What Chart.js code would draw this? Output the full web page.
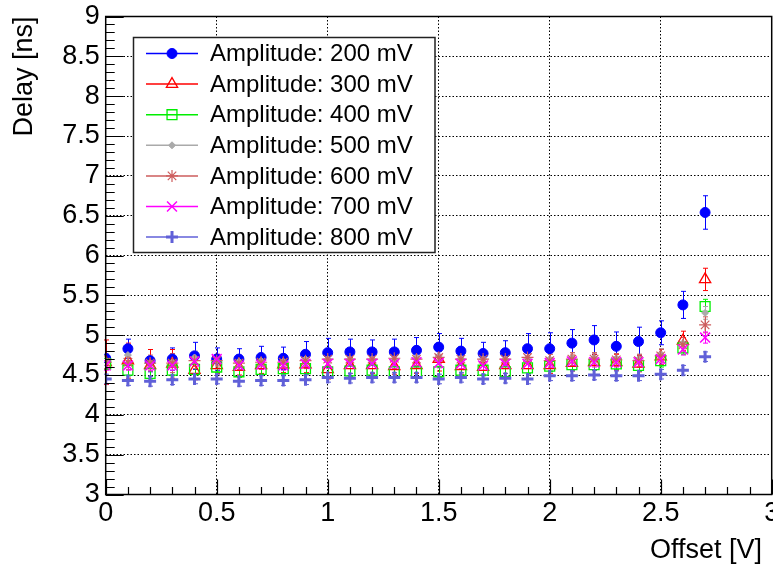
<!DOCTYPE html>
<html>
<head>
<meta charset="utf-8">
<script src="https://cdn.jsdelivr.net/npm/chart.js@4/dist/chart.umd.min.js"></script>
<style>
  html, body { margin: 0; padding: 0; background: #fff; }
  canvas { display: block; }
</style>
</head>
<body>
<canvas id="delayChart" width="773" height="567"></canvas>
<script>
// Offset values [V]
var offsets = [0, 0.1, 0.2, 0.3, 0.4, 0.5, 0.6, 0.7, 0.8, 0.9, 1.0, 1.1, 1.2, 1.3,
               1.4, 1.5, 1.6, 1.7, 1.8, 1.9, 2.0, 2.1, 2.2, 2.3, 2.4, 2.5, 2.6, 2.7];

// Delay [ns] per amplitude
var delay200 = [4.71, 4.83, 4.68, 4.70, 4.74, 4.70, 4.70, 4.72, 4.71, 4.76, 4.78, 4.79, 4.79, 4.79,
                4.81, 4.85, 4.80, 4.77, 4.78, 4.83, 4.83, 4.90, 4.94, 4.86, 4.92, 5.03, 5.38, 6.54];
var delay300 = [4.66, 4.68, 4.62, 4.64, 4.56, 4.62, 4.60, 4.62, 4.63, 4.63, 4.57, 4.62, 4.62, 4.61,
                4.62, 4.70, 4.61, 4.60, 4.62, 4.62, 4.62, 4.65, 4.66, 4.66, 4.64, 4.73, 4.93, 5.70];
var delay400 = [4.64, 4.56, 4.52, 4.56, 4.57, 4.60, 4.54, 4.57, 4.58, 4.58, 4.54, 4.55, 4.56, 4.54,
                4.54, 4.54, 4.56, 4.56, 4.54, 4.59, 4.61, 4.63, 4.63, 4.64, 4.62, 4.68, 4.84, 5.36];
var delay500 = [4.68, 4.75, 4.65, 4.66, 4.72, 4.68, 4.67, 4.68, 4.67, 4.70, 4.70, 4.70, 4.70, 4.70,
                4.72, 4.74, 4.71, 4.70, 4.70, 4.71, 4.70, 4.72, 4.72, 4.71, 4.70, 4.76, 4.90, 5.28];
var delay600 = [4.66, 4.66, 4.65, 4.65, 4.68, 4.68, 4.65, 4.66, 4.66, 4.68, 4.70, 4.70, 4.70, 4.71,
                4.70, 4.72, 4.70, 4.70, 4.70, 4.72, 4.68, 4.70, 4.70, 4.69, 4.68, 4.74, 4.88, 5.13];
var delay700 = [4.62, 4.62, 4.62, 4.62, 4.67, 4.70, 4.62, 4.63, 4.62, 4.64, 4.64, 4.64, 4.64, 4.64,
                4.66, 4.65, 4.64, 4.62, 4.64, 4.64, 4.65, 4.67, 4.66, 4.66, 4.66, 4.70, 4.82, 4.97];
var delay800 = [4.45, 4.43, 4.42, 4.44, 4.45, 4.45, 4.42, 4.43, 4.43, 4.44, 4.47, 4.46, 4.47, 4.47,
                4.47, 4.45, 4.47, 4.45, 4.46, 4.45, 4.49, 4.49, 4.50, 4.49, 4.49, 4.51, 4.56, 4.73];

// Errors [ns]
var err200 = [0.05, 0.12, 0.14, 0.14, 0.17, 0.14, 0.13, 0.14, 0.14, 0.16, 0.18, 0.16, 0.15, 0.16,
              0.16, 0.17, 0.16, 0.14, 0.15, 0.19, 0.20, 0.17, 0.18, 0.18, 0.18, 0.15, 0.17, 0.21];
var err300 = [0.28, 0.22, 0.20, 0.18, 0.12, 0.10, 0.10, 0.10, 0.10, 0.10, 0.12, 0.10, 0.10, 0.10,
              0.10, 0.15, 0.10, 0.10, 0.10, 0.10, 0.10, 0.10, 0.10, 0.10, 0.10, 0.10, 0.12, 0.14];
var err400 = [0.07, 0.07, 0.07, 0.07, 0.07, 0.07, 0.07, 0.07, 0.07, 0.07, 0.07, 0.07, 0.07, 0.07,
              0.07, 0.07, 0.07, 0.07, 0.07, 0.07, 0.07, 0.07, 0.07, 0.07, 0.07, 0.08, 0.08, 0.09];
var err500 = [0.06, 0.08, 0.06, 0.06, 0.08, 0.06, 0.06, 0.06, 0.06, 0.06, 0.06, 0.06, 0.06, 0.06,
              0.06, 0.06, 0.06, 0.06, 0.06, 0.06, 0.06, 0.06, 0.06, 0.06, 0.06, 0.07, 0.07, 0.08];
var err600 = [0.08, 0.09, 0.10, 0.12, 0.10, 0.08, 0.08, 0.08, 0.08, 0.08, 0.08, 0.08, 0.08, 0.08,
              0.08, 0.08, 0.08, 0.08, 0.08, 0.09, 0.08, 0.08, 0.08, 0.08, 0.08, 0.08, 0.09, 0.10];
var err700 = [0.06, 0.06, 0.06, 0.06, 0.06, 0.06, 0.06, 0.06, 0.06, 0.06, 0.06, 0.06, 0.06, 0.06,
              0.06, 0.06, 0.06, 0.06, 0.06, 0.06, 0.06, 0.06, 0.06, 0.06, 0.06, 0.06, 0.07, 0.07];
var err800 = [0.06, 0.06, 0.06, 0.06, 0.06, 0.06, 0.06, 0.06, 0.06, 0.06, 0.06, 0.06, 0.06, 0.06,
              0.06, 0.06, 0.06, 0.06, 0.06, 0.06, 0.06, 0.06, 0.06, 0.06, 0.06, 0.06, 0.06, 0.06];

var seriesLabels = ['Amplitude: 200 mV', 'Amplitude: 300 mV', 'Amplitude: 400 mV', 'Amplitude: 500 mV',
                    'Amplitude: 600 mV', 'Amplitude: 700 mV', 'Amplitude: 800 mV'];
var xTitle = 'Offset [V]';
var yTitle = 'Delay [ns]';

var FONT = "'Liberation Sans', Arial, Helvetica, sans-serif";

function toPoints(values) {
    return values.map(function (v, i) { return { x: offsets[i], y: v }; });
}

// "9", "8.5" ... rather than "9.0"
function tickText(value) {
    return String(+value.toFixed(1));
}

// marker style per series (ROOT-like)
var styles = [
    { color: '#0000ff', pointStyle: 'circle',   radius: 5,   fill: '#0000ff', bw: 1 },
    { color: '#ff0000', pointStyle: 'triangle', radius: 6.5, fill: 'rgba(0,0,0,0)', bw: 1.3 },
    { color: '#00ee00', pointStyle: 'rect',     radius: 7,   fill: 'rgba(0,0,0,0)', bw: 1.3 },
    { color: '#aaaaaa', pointStyle: 'rectRot',  radius: 3.5, fill: '#aaaaaa', bw: 1 },
    { color: '#cd5c5c', pointStyle: 'star',     radius: 6,   fill: 'rgba(0,0,0,0)', bw: 1.2 },
    { color: '#ff00ff', pointStyle: 'crossRot', radius: 7,   fill: 'rgba(0,0,0,0)', bw: 1.5 },
    { color: '#6060d8', pointStyle: 'cross',    radius: 6,   fill: 'rgba(0,0,0,0)', bw: 3 }
];
var allValues = [delay200, delay300, delay400, delay500, delay600, delay700, delay800];
var allErrors = [err200, err300, err400, err500, err600, err700, err800];

var datasets = allValues.map(function (vals, i) {
    var s = styles[i];
    return {
        label: seriesLabels[i],
        data: toPoints(vals),
        errors: allErrors[i],
        showLine: false,
        pointStyle: s.pointStyle,
        pointRadius: s.radius,
        pointBorderWidth: s.bw,
        pointBorderColor: s.color,
        pointBackgroundColor: s.fill,
        borderColor: s.color,
        backgroundColor: s.fill,
        order: 6 - i // later series on top
    };
});

// error bars, drawn under the markers
var errorBars = {
    id: 'errorBars',
    beforeDatasetsDraw: function (chart) {
        var ctx = chart.ctx;
        var yScale = chart.scales.y;
        ctx.save();
        chart.data.datasets.forEach(function (ds, di) {
            var meta = chart.getDatasetMeta(di);
            ctx.strokeStyle = ds.pointBorderColor;
            ctx.lineWidth = 1;
            meta.data.forEach(function (pt, j) {
                var v = ds.data[j].y, e = ds.errors[j];
                var x = Math.round(pt.x) + 0.5;
                var y1 = yScale.getPixelForValue(v + e);
                var y2 = yScale.getPixelForValue(v - e);
                ctx.beginPath();
                ctx.moveTo(x, y1); ctx.lineTo(x, y2);
                ctx.moveTo(x - 2.5, y1); ctx.lineTo(x + 2.5, y1);
                ctx.moveTo(x - 2.5, y2); ctx.lineTo(x + 2.5, y2);
                ctx.stroke();
            });
        });
        ctx.restore();
    }
};

// frame, inward ticks, titles and legend box
var decorations = {
    id: 'decorations',
    afterDraw: function (chart) {
        var ctx = chart.ctx;
        var a = chart.chartArea;
        var xs = chart.scales.x, ys = chart.scales.y;
        ctx.save();
        ctx.strokeStyle = '#000';
        ctx.lineWidth = 1.5;
        ctx.strokeRect(a.left, a.top, a.right - a.left, a.bottom - a.top);

        ctx.lineWidth = 1.2;
        ctx.beginPath();
        for (var k = 0; k <= 30; k++) {
            var xv = k / 10;
            var px = Math.round(xs.getPixelForValue(xv)) + 0.5;
            var len = (k % 5 === 0) ? 15 : 7.5;
            ctx.moveTo(px, a.bottom); ctx.lineTo(px, a.bottom - len);
        }
        for (var m = 30; m <= 90; m++) {
            var yv = m / 10;
            var py = Math.round(ys.getPixelForValue(yv)) + 0.5;
            var ylen = (m % 5 === 0) ? 18 : 9;
            ctx.moveTo(a.left, py); ctx.lineTo(a.left + ylen, py);
        }
        ctx.stroke();

        // axis titles
        ctx.fillStyle = '#000';
        ctx.font = '27px ' + FONT;
        ctx.textAlign = 'right';
        ctx.textBaseline = 'middle';
        ctx.fillText(xTitle, 762, 551);
        ctx.save();
        ctx.translate(25, a.top);
        ctx.rotate(-Math.PI / 2);
        ctx.fillText(yTitle, 0, 0);
        ctx.restore();

        // legend
        var lx = 133.5, ly = 37.5, lw = 301.5, lh = 215;
        ctx.fillStyle = '#fff';
        ctx.fillRect(lx, ly, lw, lh);
        ctx.strokeStyle = '#222';
        ctx.lineWidth = 1.5;
        ctx.strokeRect(lx, ly, lw, lh);
        ctx.font = '24px ' + FONT;
        ctx.textAlign = 'left';
        chart.data.datasets.forEach(function (ds, i) {
            var ry = 53.5 + i * 30.6;
            ctx.strokeStyle = ds.pointBorderColor;
            ctx.lineWidth = 1.5;
            ctx.beginPath();
            ctx.moveTo(146, ry); ctx.lineTo(198, ry);
            ctx.stroke();
            ctx.fillStyle = ds.pointBackgroundColor;
            ctx.lineWidth = ds.pointBorderWidth;
            if (Chart.helpers && Chart.helpers.drawPoint) {
                Chart.helpers.drawPoint(ctx, {
                    pointStyle: ds.pointStyle, radius: ds.pointRadius,
                    rotation: 0, borderWidth: ds.pointBorderWidth
                }, 172, ry);
            }
            ctx.fillStyle = '#000';
            ctx.fillText(ds.label, 210, ry + 1);
        });
        ctx.restore();
    }
};

var ctx = document.getElementById('delayChart').getContext('2d');
var delayChart = new Chart(ctx, {
    type: 'scatter',
    data: { datasets: datasets },
    options: {
        responsive: false,
        animation: false,
        events: [],
        layout: {
            autoPadding: false,
            padding: { left: 0, right: 1.3, top: 16.5, bottom: 0 }
        },
        plugins: {
            legend: { display: false },
            tooltip: { enabled: false }
        },
        scales: {
            x: {
                type: 'linear', min: 0, max: 3,
                afterFit: function (scale) {
                    scale.height = 72.5;
                    scale.paddingLeft = 0;
                    scale.paddingRight = 0;
                },
                ticks: {
                    stepSize: 0.5, autoSkip: false, maxRotation: 0, padding: 3,
                    color: '#000', font: { family: FONT, size: 27 },
                    callback: tickText
                },
                grid: { drawTicks: false, color: '#000', lineWidth: 1 },
                border: { display: false, dash: [1.5, 2] }
            },
            y: {
                type: 'linear', min: 3, max: 9,
                afterFit: function (scale) {
                    scale.width = 105.7;
                    scale.paddingTop = 0;
                    scale.paddingBottom = 0;
                },
                ticks: {
                    stepSize: 0.5, autoSkip: false, padding: 6,
                    color: '#000', font: { family: FONT, size: 27 },
                    callback: tickText
                },
                grid: { drawTicks: false, color: '#000', lineWidth: 1 },
                border: { display: false, dash: [1.5, 2] }
            }
        }
    },
    plugins: [errorBars, decorations]
});
</script>
</body>
</html>
